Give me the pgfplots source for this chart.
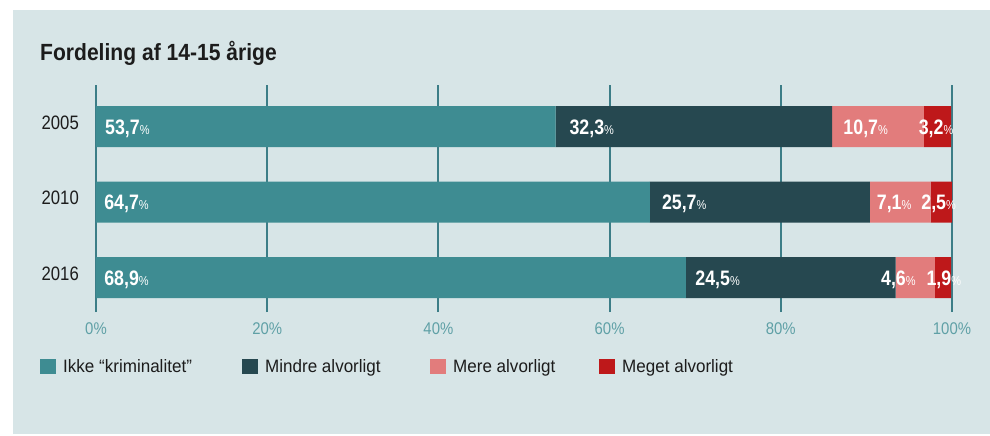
\documentclass[border=0pt]{standalone}
\usepackage{pgfplots}
\pgfplotsset{compat=1.18}
\usepackage{fontspec}
\setmainfont[FakeStretch=0.88]{Liberation Sans}
\newfontfamily\titlefam[FakeStretch=0.9]{Liberation Sans}
\newfontfamily\yearfam[FakeStretch=0.86]{Liberation Sans}
\newfontfamily\legfam[FakeStretch=0.95]{Liberation Sans}
\newfontfamily\barfam[FakeStretch=0.85]{Liberation Sans}

\definecolor{bgc}{HTML}{D7E5E7}
\definecolor{ikke}{HTML}{3E8C92}
\definecolor{mindre}{HTML}{264850}
\definecolor{mere}{HTML}{E27C7C}
\definecolor{meget}{HTML}{BE181A}
\definecolor{gridc}{HTML}{3C7D87}
\definecolor{tickc}{HTML}{5FA0A6}
\definecolor{ink}{HTML}{1C1C1C}

\newcommand\pct{{\barfam\mdseries\fontsize{13}{13}\selectfont\%}}

% common geometry of the bar axis and the label overlay
\pgfplotsset{
  chartframe/.style={
    at={(96bp,-312bp)}, anchor=south west,
    scale only axis, width=856bp, height=227bp,
    xmin=0, xmax=100, ymin=-0.457, ymax=2.55,
  },
}

\begin{document}
\begin{tikzpicture}
\useasboundingbox (0,0) rectangle (990bp,-436bp);
\fill[white] (0,0) rectangle (990bp,-436bp);
\fill[bgc] (13bp,-10bp) rectangle (990bp,-434bp);

\node[anchor=base west, inner sep=0pt, text=ink,
      font=\titlefam\bfseries\fontsize{23.5}{26}\selectfont]
  at (40bp,-60bp) {Fordeling af 14-15 årige};

\begin{axis}[
    chartframe,
    xbar stacked,
    bar width=41bp,
    axis line style={draw=none},
    major tick length=0pt,
    xtick={0,20,40,60,80,100},
    xticklabels={0\%,20\%,40\%,60\%,80\%,100\%},
    ytick={0,1,2},
    yticklabels={2016,2010,2005},
    xmajorgrids=true,
    grid style={color=gridc, line width=2bp},
    xticklabel style={inner sep=0pt, yshift=-10.5bp, text=tickc,
      font=\fontsize{17}{17}\selectfont},
    yticklabel style={inner sep=0pt, xshift=-17bp, yshift=4bp, text=ink,
      font=\yearfam\fontsize{19.5}{20}\selectfont},
    legend columns=4,
    legend image code/.code={
      \fill[#1] (0bp,-7.5bp) rectangle (16bp,7.5bp);
      \path (23bp,0bp);
    },
    legend style={draw=none, fill=none, inner sep=0pt, column sep=0pt,
      at={(axis description cs:-0.0654,-0.240)}, anchor=west,
      nodes={inner sep=0pt, text=ink},
      font=\legfam\fontsize{18}{20}\selectfont},
]
\addplot[fill=ikke, draw=none] coordinates {(53.7,2) (64.7,1) (68.9,0)};
\addplot[fill=mindre, draw=none] coordinates {(32.3,2) (25.7,1) (24.5,0)};
\addplot[fill=mere, draw=none] coordinates {(10.7,2) (7.1,1) (4.6,0)};
\addplot[fill=meget, draw=none] coordinates {(3.2,2) (2.5,1) (1.9,0)};
\legend{\makebox[179bp][l]{Ikke “kriminalitet”},
        \makebox[165bp][l]{Mindre alvorligt},
        \makebox[146bp][l]{Mere alvorligt},
        Meget alvorligt}
\end{axis}

% value labels, placed at the start of their text
\begin{axis}[
    chartframe,
    hide axis,
    clip=false,
]
\addplot[draw=none,
    point meta=explicit symbolic,
    nodes near coords={\pgfplotspointmeta\pct},
    every node near coord/.append style={anchor=base west, inner sep=0pt,
      yshift=-7.5bp, text=white,
      font=\barfam\bfseries\fontsize{21}{22}\selectfont},
] coordinates {
    (1.05,2) [53,7] (55.3,2) [32,3] (87.3,2) [10,7] (96.1,2) [3,2]
    (0.95,1) [64,7] (66.1,1) [25,7] (91.2,1) [7,1]  (96.4,1) [2,5]
    (0.95,0) [68,9] (70.0,0) [24,5] (91.7,0) [4,6]  (97.0,0) [1,9]
};
\end{axis}
\end{tikzpicture}
\end{document}
